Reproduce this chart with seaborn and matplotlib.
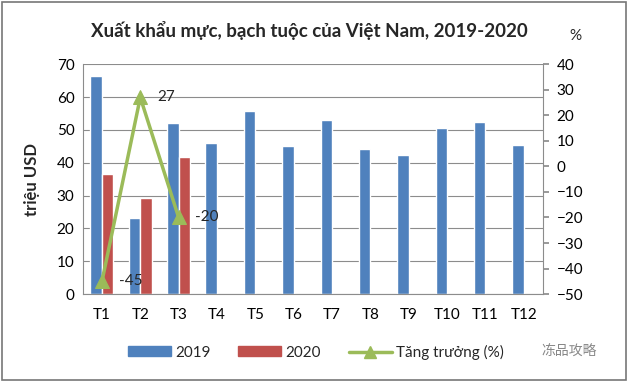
import pandas as pd
import numpy as np
import matplotlib
matplotlib.use("Agg")
import matplotlib.pyplot as plt
import seaborn as sns
from matplotlib.patches import Patch, Rectangle
from matplotlib.lines import Line2D

# data
months = ['T1', 'T2', 'T3', 'T4', 'T5', 'T6', 'T7', 'T8', 'T9', 'T10', 'T11', 'T12']
exp_2019 = [66.4, 23.1, 52.0, 45.9, 55.6, 45.0, 52.9, 44.1, 42.5, 50.5, 52.3, 45.3]
exp_2020 = [36.5, 29.3, 41.6, None, None, None, None, None, None, None, None, None]
growth_months = ['T1', 'T2', 'T3']
growth = [-45, 27, -20]

blue = '#4F81BD'
red = '#C0504D'
green = '#9BBB59'

sns.set_theme(style='white')
plt.rcParams['font.family'] = ['Lato', 'DejaVu Sans']

df = pd.DataFrame({
    'month': months * 2,
    'year': ['2019'] * 12 + ['2020'] * 12,
    'value': [np.nan if v is None else v for v in exp_2019 + exp_2020],
})

fig = plt.figure(figsize=(6.32, 3.82), dpi=100)
ax = fig.add_axes([0.131, 0.23, 0.728, 0.602])

sns.barplot(data=df, x='month', y='value', hue='year', order=months,
            palette=[blue, red], width=0.6, ax=ax, legend=False, saturation=1)

ax.set_ylim(0, 70)
ax.set_yticks(range(0, 71, 10))
ax.set_xlim(-0.5, 11.5)
ax.yaxis.grid(True, color='#8c8c8c', lw=0.8)
ax.set_axisbelow(True)
for s in ['top', 'right']:
    ax.spines[s].set_visible(False)
for s in ['left', 'bottom']:
    ax.spines[s].set_color('#8c8c8c')
    ax.spines[s].set_linewidth(0.8)
ax.set_xlabel('')
ax.set_ylabel('triệu USD', fontsize=12, fontweight='bold', labelpad=12)
ax.tick_params(axis='both', labelsize=11, colors='black', length=0, pad=6)
ax.tick_params(axis='x', pad=10)
ax.set_xticks(np.arange(-0.5, 12, 1), minor=True)
ax.tick_params(axis='x', which='minor', length=5, color='#8c8c8c', direction='out')

ax2 = ax.twinx()
gx = [months.index(m) for m in growth_months]
sns.lineplot(x=gx, y=growth, ax=ax2, color=green, lw=2.5, marker='^',
             markersize=10, markeredgecolor=green)
ax2.set_ylim(-50, 40)
ax2.set_yticks(range(-50, 41, 10))
for s in ['top', 'left', 'bottom']:
    ax2.spines[s].set_visible(False)
ax2.spines['right'].set_color('#8c8c8c')
ax2.spines['right'].set_linewidth(0.8)
ax2.tick_params(axis='y', labelsize=11, colors='black', length=4, color='#8c8c8c', pad=6)
for x, g in zip(gx, growth):
    ax2.annotate(str(g), (x, g), xytext=(12, 0), textcoords='offset points',
                 va='center', ha='left', fontsize=11)

fig.text(0.49, 0.92, 'Xuất khẩu mực, bạch tuộc của Việt Nam, 2019-2020',
         ha='center', va='center', fontsize=13.5, fontweight='bold')
fig.text(0.91, 0.905, '%', ha='center', va='center', fontsize=11)

handles = [Patch(color=blue, label='2019'), Patch(color=red, label='2020'),
           Line2D([], [], color=green, lw=2.5, marker='^', markersize=8, label='Tăng trưởng (%)')]
fig.legend(handles=handles, loc='center', bbox_to_anchor=(0.5, 0.078), ncol=3,
           frameon=False, fontsize=11, handlelength=2.8, handleheight=0.6,
           columnspacing=1.8, handletextpad=0.3)
fig.text(0.9, 0.078, '冻品攻略', ha='center', va='center', fontsize=10,
         color='#888888', family=['Noto Sans CJK SC', 'DejaVu Sans'])

fig.patches.append(Rectangle((0.003, 0.005), 0.987, 0.99, transform=fig.transFigure,
                             fill=False, edgecolor='#777777', lw=1.2))

fig.savefig('out.png', dpi=100)
